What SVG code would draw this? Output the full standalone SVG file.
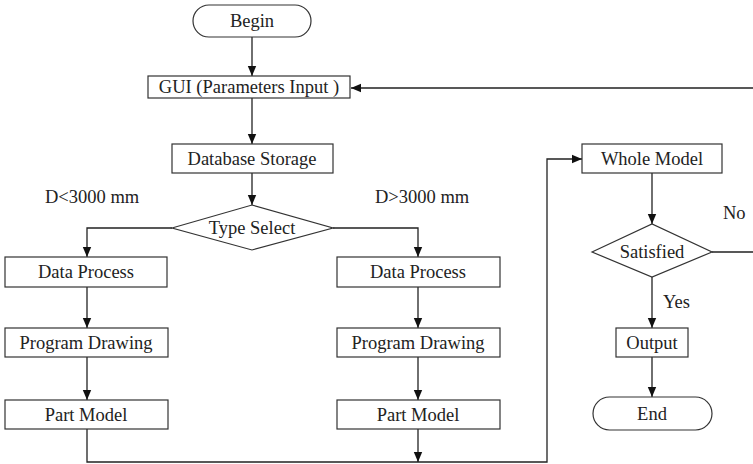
<svg xmlns="http://www.w3.org/2000/svg" width="753" height="464" viewBox="0 0 753 464">
<style>
.box{fill:#fff;stroke:#333;stroke-width:1.2}
.ln{fill:none;stroke:#222;stroke-width:1.3}
.t{font-family:'Liberation Serif','DejaVu Serif','Times New Roman',Times,serif;font-size:18.5px;fill:#222}
.c{text-anchor:middle}
</style>
<defs>
<marker id="ah" viewBox="0 0 10 10" refX="10" refY="5" markerWidth="10" markerHeight="10" markerUnits="userSpaceOnUse" orient="auto">
<path d="M0,0.8 L10,5 L0,9.2 Z" fill="#111"/>
</marker>
</defs>
<rect width="753" height="464" fill="#fff"/>
<g id="connectors">
<path class="ln" d="M252,37 V76" marker-end="url(#ah)"/>
<path class="ln" d="M252,97 V144" marker-end="url(#ah)"/>
<path class="ln" d="M252,173 V205" marker-end="url(#ah)"/>
<path class="ln" d="M172,228 H87 V257" marker-end="url(#ah)"/>
<path class="ln" d="M333,228 H418 V257" marker-end="url(#ah)"/>
<path class="ln" d="M87,287 V328" marker-end="url(#ah)"/>
<path class="ln" d="M87,357 V400" marker-end="url(#ah)"/>
<path class="ln" d="M418,287 V328" marker-end="url(#ah)"/>
<path class="ln" d="M418,357 V400" marker-end="url(#ah)"/>
<path class="ln" d="M87,429 V462 H418"/>
<path class="ln" d="M418,429 V462" marker-end="url(#ah)"/>
<path class="ln" d="M418,462 H547 V159 H582" marker-end="url(#ah)"/>
<path class="ln" d="M652,173 V224" marker-end="url(#ah)"/>
<path class="ln" d="M652,277 V328" marker-end="url(#ah)"/>
<path class="ln" d="M652,357 V397" marker-end="url(#ah)"/>
<path class="ln" d="M712,252 H770 V88 H351" marker-end="url(#ah)"/>
</g>
<g id="labels" class="t">
<text x="45" y="203">D&lt;3000 mm</text>
<text x="375" y="203">D&gt;3000 mm</text>
<text x="723" y="219">No</text>
<text x="663" y="308">Yes</text>
</g>
<g id="begin" class="t"><rect class="box" x="193" y="5" width="118" height="32" rx="16"/><text class="c" x="252" y="27">Begin</text></g>
<g id="gui" class="t"><rect class="box" x="148" y="76" width="202" height="22"/><text class="c" x="249" y="93">GUI (Parameters Input )</text></g>
<g id="db" class="t"><rect class="box" x="172" y="144" width="161" height="29"/><text class="c" x="252" y="165">Database Storage</text></g>
<g id="type" class="t"><polygon class="box" points="172,228 252,205 333,228 252,250"/><text class="c" x="252" y="234">Type Select</text></g>
<g id="dp1" class="t"><rect class="box" x="5" y="257" width="162" height="30"/><text class="c" x="86" y="278">Data Process</text></g>
<g id="pd1" class="t"><rect class="box" x="5" y="328" width="163" height="29"/><text class="c" x="86" y="349">Program Drawing</text></g>
<g id="pm1" class="t"><rect class="box" x="5" y="400" width="163" height="29"/><text class="c" x="86" y="421">Part Model</text></g>
<g id="dp2" class="t"><rect class="box" x="337" y="257" width="163" height="30"/><text class="c" x="418" y="278">Data Process</text></g>
<g id="pd2" class="t"><rect class="box" x="337" y="328" width="163" height="29"/><text class="c" x="418" y="349">Program Drawing</text></g>
<g id="pm2" class="t"><rect class="box" x="337" y="400" width="163" height="29"/><text class="c" x="418" y="421">Part Model</text></g>
<g id="whole" class="t"><rect class="box" x="582" y="144" width="140" height="29"/><text class="c" x="652" y="165">Whole Model</text></g>
<g id="sat" class="t"><polygon class="box" points="592,252 652,224 712,252 652,277"/><text class="c" x="652" y="258">Satisfied</text></g>
<g id="output" class="t"><rect class="box" x="616" y="328" width="72" height="29"/><text class="c" x="652" y="349">Output</text></g>
<g id="end" class="t"><rect class="box" x="593" y="397" width="119" height="33" rx="16.5"/><text class="c" x="652" y="420">End</text></g>
</svg>
